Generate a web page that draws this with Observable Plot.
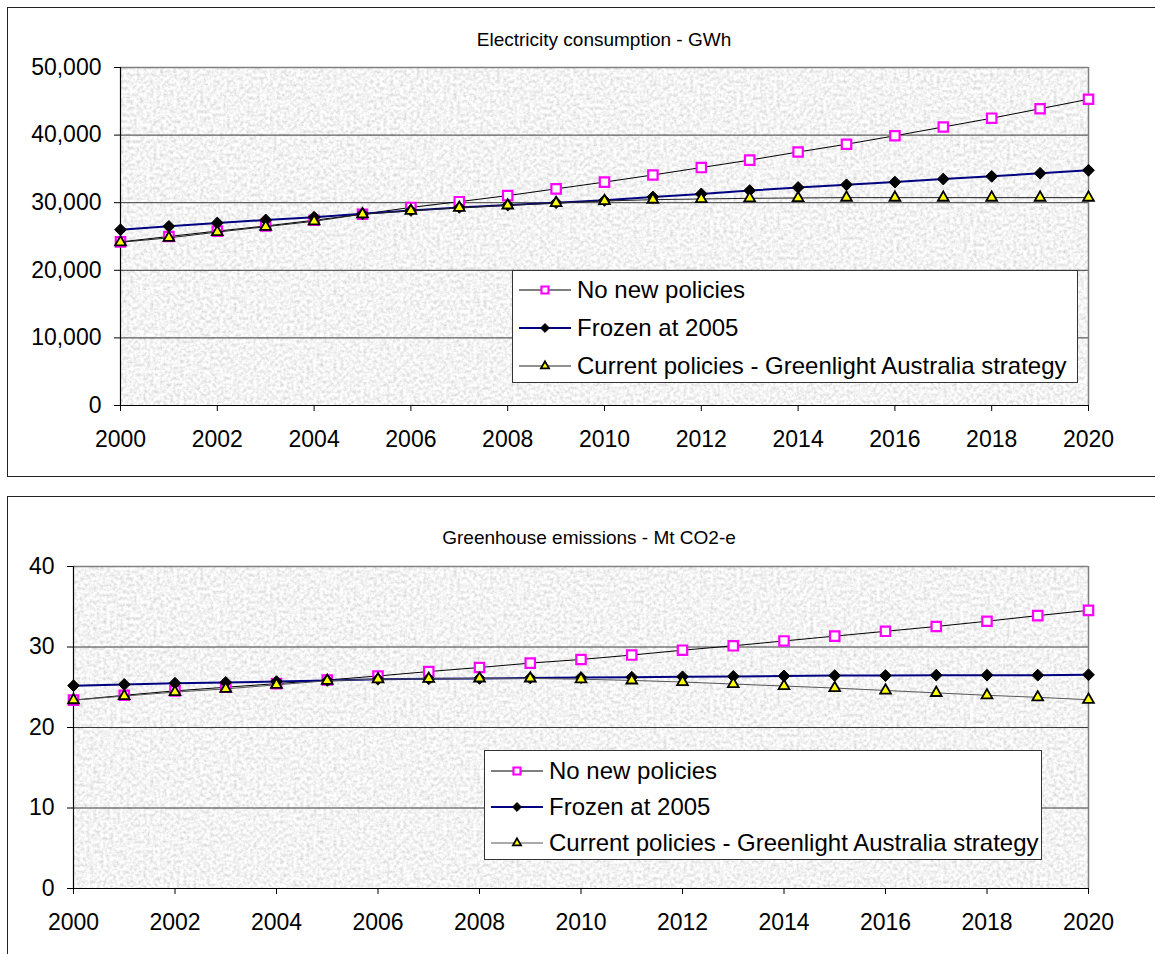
<!DOCTYPE html>
<html><head><meta charset="utf-8">
<script src="https://cdn.jsdelivr.net/npm/d3@7"></script>
<script src="https://cdn.jsdelivr.net/npm/@observablehq/plot@0.6"></script>
<style>
body{margin:0;background:#fff;font-family:"Liberation Sans",Arial,sans-serif;}
#page{position:relative;width:1155px;height:954px;overflow:hidden;}
.box{position:absolute;border:1.5px solid #222;box-sizing:border-box;}
.title{position:absolute;font-size:19px;line-height:20px;transform:translateX(-50%);white-space:nowrap;color:#000;}
.legend{position:absolute;background:#fff;border:1px solid #333;box-sizing:border-box;}
.legend .row{position:absolute;left:0;height:30px;white-space:nowrap;font-size:24px;line-height:30px;}
.legend .row svg{position:absolute;left:0;top:5px;}
.legend .row span{position:absolute;left:64px;top:0;}
.chart{position:absolute;left:0;}
</style></head><body><div id="page"></div>
<script>
// ---- data ----
const years = [2000,2001,2002,2003,2004,2005,2006,2007,2008,2009,2010,2011,2012,2013,2014,2015,2016,2017,2018,2019,2020];
const yearTicks = [2000,2002,2004,2006,2008,2010,2012,2014,2016,2018,2020];
const seriesNames = ["No new policies","Frozen at 2005","Current policies - Greenlight Australia strategy"];

const elecTitle = "Electricity consumption - GWh";
const elecTicks = [0,10000,20000,30000,40000,50000];
const elecNoNew   = [24200,25000,25800,26550,27400,28300,29300,30150,31050,32050,33050,34100,35200,36300,37500,38650,39900,41200,42500,43900,45300];
const elecFrozen  = [26000,26500,27000,27450,27850,28350,28850,29300,29650,30000,30350,30850,31300,31800,32250,32650,33050,33500,33900,34350,34800];
const elecCurrent = [24150,24800,25650,26450,27250,28300,28800,29250,29600,29950,30250,30450,30550,30650,30700,30750,30750,30750,30750,30750,30750];

const emisTitle = "Greenhouse emissions - Mt CO2-e";
const emisTicks = [0,10,20,30,40];
const emisNoNew   = [23.4,24.0,24.55,25.0,25.45,25.9,26.4,26.95,27.45,28.0,28.45,29.0,29.6,30.15,30.75,31.35,31.95,32.55,33.2,33.9,34.55];
const emisFrozen  = [25.2,25.35,25.5,25.6,25.7,25.85,26.0,26.05,26.1,26.15,26.2,26.25,26.3,26.35,26.4,26.45,26.45,26.5,26.5,26.5,26.55];
const emisCurrent = [23.4,23.9,24.4,24.8,25.3,25.8,26.0,26.05,26.1,26.1,26.0,25.85,25.65,25.4,25.15,24.9,24.6,24.3,24.0,23.75,23.45];

// ---- styles ----
const styles = [
  {line:"#000", lw:1, symbol:"square", fill:"#fff", stroke:"#ff00ff", sw:2.2, r:5.3},
  {line:"#000080", lw:2, symbol:"diamond2", fill:"#000", stroke:"#000", sw:1, r:5.3},
  {line:"#222", lw:1, symbol:"triangle", fill:"#ffff00", stroke:"#000", sw:1.8, r:4.0}
];

const page = document.getElementById("page");

function addNoise(svg, id) {
  const s = d3.select(svg);
  const defs = s.insert("defs", ":first-child");
  const f = defs.append("filter").attr("id", id).attr("x", 0).attr("y", 0).attr("width", 1).attr("height", 1);
  f.append("feTurbulence").attr("type","fractalNoise").attr("baseFrequency","0.3").attr("numOctaves",4).attr("seed",11).attr("result","t");
  f.append("feColorMatrix").attr("in","t").attr("type","matrix")
    .attr("values","0.6 0 0 0 0.6  0.6 0 0 0 0.6  0.6 0 0 0 0.6  0 0 0 0 1").attr("result","g");
  f.append("feComposite").attr("in","g").attr("in2","SourceGraphic").attr("operator","in");
  s.selectAll('[aria-label="frame"]').attr("filter", `url(#${id})`);
}

function makeChart(cfg) {
  const rows = [];
  cfg.series.forEach((vals, si) => vals.forEach((v, i) => rows.push({year: years[i], value: v, s: si})));
  const ymax = cfg.ticks[cfg.ticks.length - 1];
  const marks = [
    Plot.frame({fill: "#e6e6e6"}),
    Plot.ruleY(cfg.ticks.slice(1, -1), {stroke: "#3a3a3a", strokeWidth: 1}),
    Plot.ruleY([ymax], {stroke: "#808080", strokeWidth: 1.5}),
    Plot.ruleX([years[years.length - 1]], {stroke: "#808080", strokeWidth: 1.5}),
    Plot.ruleY([0], {stroke: "#000", strokeWidth: 1.2}),
    Plot.ruleX([years[0]], {stroke: "#000", strokeWidth: 1.2}),
    Plot.axisY(cfg.ticks, {tickSize: 6, tickPadding: 13, fontSize: 23, tickFormat: cfg.fmt, stroke: "#000", label: null}),
    Plot.axisX(yearTicks, {tickSize: 6, tickPadding: 19, fontSize: 23, tickFormat: d => String(d), stroke: "#000", label: null})
  ];
  styles.forEach((st, si) => {
    const d = rows.filter(r => r.s === si);
    const lineColor = si === 2 ? cfg.currentLine : st.line;
    marks.push(Plot.lineY(d, {x: "year", y: "value", stroke: lineColor, strokeWidth: st.lw}));
    marks.push(Plot.dot(d, {x: "year", y: "value", symbol: () => st.symbol, fill: st.fill, stroke: st.stroke, strokeWidth: st.sw, r: st.r}));
  });
  const svg = Plot.plot({
    width: 1155, height: cfg.height,
    marginLeft: cfg.ml, marginRight: 67, marginTop: cfg.mt, marginBottom: cfg.mb,
    x: {domain: [years[0], years[years.length - 1]], axis: null, label: null},
    y: {domain: [0, ymax], axis: null, label: null},
    symbol: {type: "identity"},
    style: {fontFamily: "Liberation Sans, Arial, sans-serif", background: "transparent", overflow: "visible", color: "#000"},
    marks
  });
  addNoise(svg, cfg.id);
  const wrap = document.createElement("div");
  wrap.className = "chart";
  wrap.style.top = cfg.top + "px";
  wrap.appendChild(svg);
  page.appendChild(wrap);

  const t = document.createElement("div");
  t.className = "title";
  t.textContent = cfg.title;
  t.style.left = cfg.titleX + "px";
  t.style.top = cfg.titleY + "px";
  page.appendChild(t);

  // legend
  const lg = document.createElement("div");
  lg.className = "legend";
  Object.assign(lg.style, {left: cfg.lg.x + "px", top: cfg.lg.y + "px", width: cfg.lg.w + "px", height: cfg.lg.h + "px"});
  seriesNames.forEach((name, si) => {
    const st = styles[si];
    const row = document.createElement("div");
    row.className = "row";
    row.style.top = (cfg.lg.r0 + si * cfg.lg.dr - 15) + "px";
    const s = d3.create("svg").attr("width", 62).attr("height", 20);
    s.append("line").attr("x1", 6).attr("x2", 58).attr("y1", 10).attr("y2", 10)
      .attr("stroke", si === 2 ? cfg.currentLine : st.line).attr("stroke-width", st.lw);
    const sym = {square: d3.symbolSquare, diamond2: d3.symbolDiamond2, triangle: d3.symbolTriangle}[st.symbol];
    s.append("path").attr("transform", "translate(32,10)")
      .attr("d", d3.symbol(sym, Math.PI * (st.r * 0.75) ** 2)())
      .attr("fill", st.fill).attr("stroke", st.stroke).attr("stroke-width", st.sw);
    row.appendChild(s.node());
    const sp = document.createElement("span");
    sp.textContent = name;
    row.appendChild(sp);
    lg.appendChild(row);
  });
  page.appendChild(lg);
}

// boxes
const b1 = document.createElement("div"); b1.className = "box";
Object.assign(b1.style, {left: "7px", top: "7px", width: "1175px", height: "470px"});
page.appendChild(b1);
const b2 = document.createElement("div"); b2.className = "box";
Object.assign(b2.style, {left: "7px", top: "496px", width: "1175px", height: "500px"});
page.appendChild(b2);

makeChart({id: "n1", top: 0, height: 477, ml: 120, mt: 67, mb: 72, ticks: elecTicks, fmt: d3.format(","),
  series: [elecNoNew, elecFrozen, elecCurrent], currentLine: "#222",
  title: elecTitle, titleX: 604, titleY: 30,
  lg: {x: 512, y: 270, w: 566, h: 113, r0: 19, dr: 38}});
makeChart({id: "n2", top: 477, height: 477, ml: 73, mt: 89, mb: 66, ticks: emisTicks, fmt: d => String(d),
  series: [emisNoNew, emisFrozen, emisCurrent], currentLine: "#555",
  title: emisTitle, titleX: 589, titleY: 528,
  lg: {x: 484, y: 750, w: 558, h: 110, r0: 20, dr: 36}});
</script>
</body></html>
